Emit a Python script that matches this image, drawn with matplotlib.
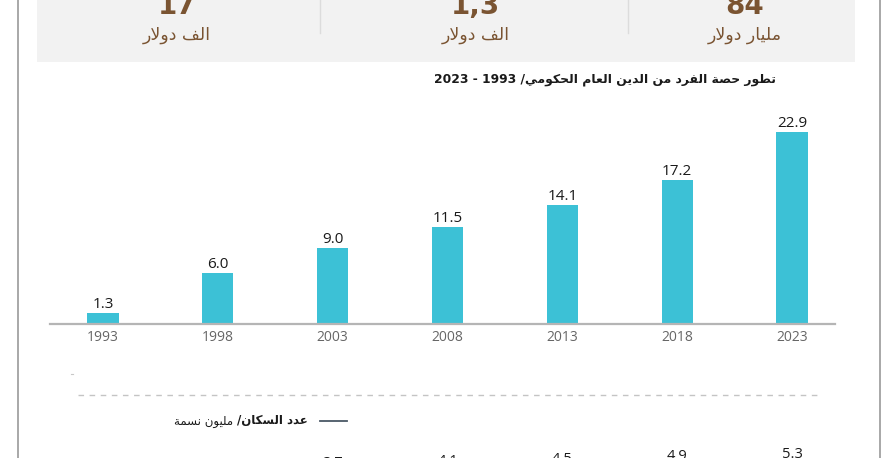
import re
import matplotlib
matplotlib.use("Agg")
import matplotlib.pyplot as plt
from matplotlib.lines import Line2D
from matplotlib.patches import Rectangle

# ---------------- data ----------------
years = ["1993", "1998", "2003", "2008", "2013", "2018", "2023"]
debt_per_capita = [1.3, 6.0, 9.0, 11.5, 14.1, 17.2, 22.9]
population = [3.0, 3.3, 3.7, 4.1, 4.5, 4.9, 5.3]
header_values = ["17", "1,3", "84"]
header_units = ["الف دولار", "الف دولار", "مليار دولار"]
title_text = "تطور حصة الفرد من الدين العام الحكومي/ 1993 - 2023"
legend_bold = "عدد السكان/"
legend_regular = "مليون نسمة"

# ---------------- minimal Arabic shaping + bidi ----------------
AR_FORMS = {
    'ا': (0xFE8D, 2), 'ب': (0xFE8F, 4), 'ة': (0xFE93, 2), 'ت': (0xFE95, 4),
    'ح': (0xFEA1, 4), 'د': (0xFEA9, 2), 'ر': (0xFEAD, 2), 'س': (0xFEB1, 4),
    'ص': (0xFEB9, 4), 'ط': (0xFEC1, 4), 'ع': (0xFEC9, 4), 'ف': (0xFED1, 4),
    'ك': (0xFED9, 4), 'ل': (0xFEDD, 4), 'م': (0xFEE1, 4), 'ن': (0xFEE5, 4),
    'ه': (0xFEE9, 4), 'و': (0xFEED, 2), 'ي': (0xFEF1, 4), 'ى': (0xFEEF, 2),
}


def _joins_next(c):
    return c in AR_FORMS and AR_FORMS[c][1] == 4


def shape(s):
    out, i, n = [], 0, len(s)
    while i < n:
        c = s[i]
        if c not in AR_FORMS:
            out.append(c)
            i += 1
            continue
        conn_prev = i > 0 and _joins_next(s[i - 1])
        if c == 'ل' and i + 1 < n and s[i + 1] == 'ا':
            out.append(chr(0xFEFC if conn_prev else 0xFEFB))
            i += 2
            continue
        nxt = s[i + 1] if i + 1 < n else None
        conn_next = _joins_next(c) and nxt in AR_FORMS
        base = AR_FORMS[c][0]
        if conn_prev and conn_next:
            code = base + 3
        elif conn_prev:
            code = base + 1
        elif conn_next:
            code = base + 2
        else:
            code = base
        out.append(chr(code))
        i += 1
    return ''.join(out)


def ar(s):
    v = shape(s)[::-1]
    return re.sub(r'[0-9][0-9.,]*[0-9]|[0-9]', lambda m: m.group(0)[::-1], v)


# ---------------- figure ----------------
W, H = 891, 458
fig = plt.figure(figsize=(W / 100, H / 100), dpi=100)
fig.patch.set_facecolor("white")


def fx(x):
    return x / W


def fy(y):
    return 1 - y / H


AR_FONT = ["DejaVu Sans"]
NUM_FONT = ["Open Sans", "DejaVu Sans"]
BROWN = "#7a5432"

# outer frame lines
for x in (18, 880):
    fig.add_artist(Line2D([fx(x), fx(x)], [0, 1], color="#9a9a9a", lw=1.2))

# gray header panel
fig.add_artist(Rectangle((fx(37), fy(62)), fx(855) - fx(37), fy(0) - fy(62),
                         facecolor="#f2f2f2", edgecolor="none"))
for x in (320, 628):
    fig.add_artist(Line2D([fx(x), fx(x)], [fy(33), fy(0)], color="#dcdcdc", lw=1))

header_x = [177, 476, 745]
for x, v, u in zip(header_x, header_values, header_units):
    fig.text(fx(x), fy(14), v, ha="center", va="baseline", fontsize=20,
             fontweight="bold", color=BROWN, family=["DejaVu Sans"])
    fig.text(fx(x), fy(35), ar(u), ha="center", va="center", fontsize=12.5,
             color=BROWN, family=AR_FONT)

# chart title
fig.text(fx(776), fy(80), ar(title_text), ha="right", va="center",
         fontsize=8.9, fontweight="bold", color="#1a1a1a", family=AR_FONT)

# ---------------- bar chart ----------------
base_px, top_px = 323.5, 100
px_per_unit = 8.37
ax = fig.add_axes([fx(50), fy(base_px), fx(835) - fx(50), (base_px - top_px) / H])
xpos = list(range(len(years)))
ax.bar(xpos, debt_per_capita, width=0.27, color="#3cc1d6", zorder=2)
ax.set_xlim(-(103 - 50) / 114.83, 6 + (835 - 792) / 114.83)
ax.set_ylim(0, (base_px - top_px) / px_per_unit)
for s in ("top", "right", "left"):
    ax.spines[s].set_visible(False)
ax.spines["bottom"].set_color("#b5b5b5")
ax.spines["bottom"].set_linewidth(1.6)
ax.set_yticks([])
ax.set_xticks(xpos)
ax.set_xticklabels(years, fontsize=10, color="#666666", family=NUM_FONT)
ax.tick_params(axis="x", length=0, pad=5)
for x, v in zip(xpos, debt_per_capita):
    ax.annotate(f"{v:.1f}", (x, v), xytext=(0, 5), textcoords="offset pixels",
                ha="center", va="baseline", fontsize=11, color="#1a1a1a",
                family=NUM_FONT)

# tiny stray mark
fig.add_artist(Line2D([fx(71), fx(73)], [fy(374), fy(374)], color="#c8c8c8", lw=0.8))

# dashed separator
fig.add_artist(Line2D([fx(78), fx(818)], [fy(395), fy(395)], color="#c4c4c4",
                      lw=1, linestyle=(0, (4, 4))))

# legend for population line
LINE_COL = "#4a5866"
fig.add_artist(Line2D([fx(320), fx(347)], [fy(421), fy(421)], color=LINE_COL, lw=1.3))
t_bold = fig.text(fx(308), fy(421), ar(legend_bold), ha="right", va="center",
                  fontsize=8.5, fontweight="bold", color="#1a1a1a", family=AR_FONT)
fig.canvas.draw()
bb = t_bold.get_window_extent(fig.canvas.get_renderer())
fig.text(bb.x0 / W - fx(4), fy(421), ar(legend_regular), ha="right", va="center",
         fontsize=8.5, color="#1a1a1a", family=AR_FONT)

# ---------------- population line (mostly below the visible crop) ----------------
a_px, b_px = 499.3, 5.9
ptop, pbot = 440, 560
ax2 = fig.add_axes([fx(50), fy(pbot), fx(835) - fx(50), (pbot - ptop) / H])
ax2.set_xlim(ax.get_xlim())
ax2.set_ylim((a_px - pbot) / b_px, (a_px - ptop) / b_px)
ax2.axis("off")
ax2.patch.set_alpha(0)
ax2.plot(xpos, population, color=LINE_COL, lw=1.5)
for x, v in zip(xpos, population):
    ax2.annotate(f"{v:.1f}", (x, v), xytext=(0, 10), textcoords="offset pixels",
                 ha="center", va="baseline", fontsize=10.5, color="#1a1a1a",
                 family=NUM_FONT)

fig.savefig("out.png", dpi=100)
